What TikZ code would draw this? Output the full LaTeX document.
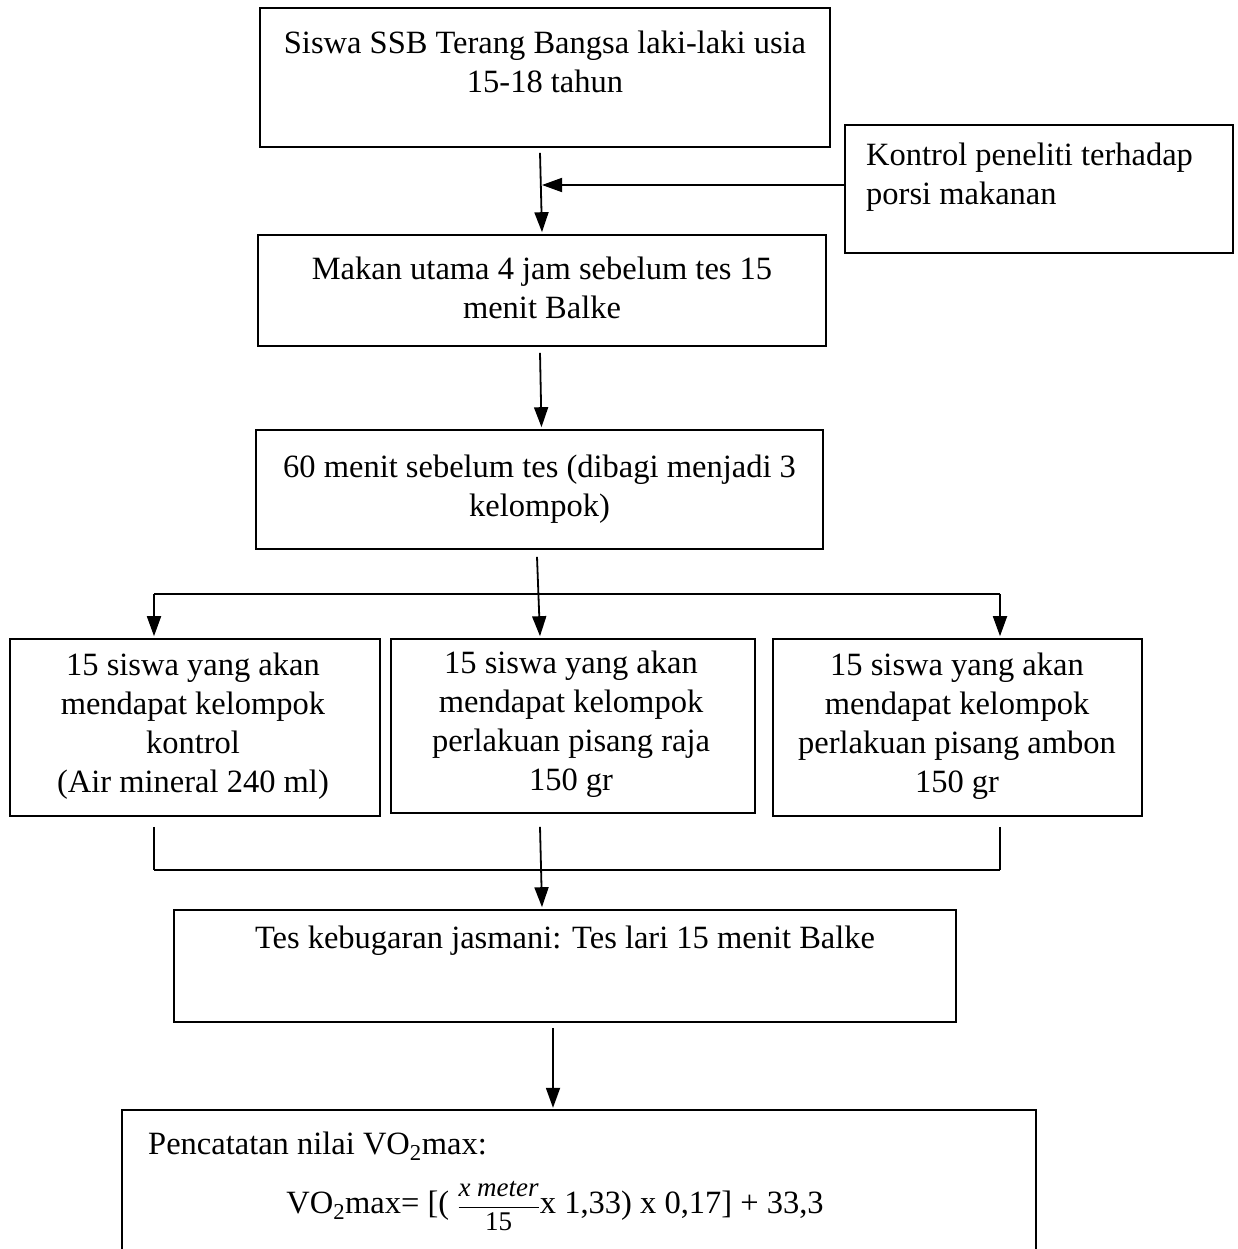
\documentclass[tikz,border=0pt]{standalone}
\usepackage{fontspec}
\setmainfont{Liberation Serif}
\usetikzlibrary{arrows.meta,calc}
\begin{document}
\begin{tikzpicture}[x=1pt,y=-1pt,
  box/.style={draw, line width=1.6pt, inner sep=0pt},
  txt/.style={inner sep=0pt, align=center, font=\fontsize{32.5}{39}\selectfont},
  arr/.style={line width=1.8pt, -{Triangle[length=20pt,width=14pt]}},
  ln/.style={line width=1.8pt},
  thin/.style={line width=1.1pt}]
\useasboundingbox (0,0) rectangle (1238,1249);
% boxes
\node[box, minimum width=570pt, minimum height=139pt] (b1) at (545,77.5) {};
\node[box, minimum width=388pt, minimum height=128pt] (sb) at (1039,189) {};
\node[box, minimum width=568pt, minimum height=111pt] (b2) at (542,290.5) {};
\node[box, minimum width=567pt, minimum height=119pt] (b3) at (539.5,489.5) {};
\node[box, minimum width=370pt, minimum height=177pt] (g1) at (195,727.5) {};
\node[box, minimum width=364pt, minimum height=174pt] (g2) at (573,726) {};
\node[box, minimum width=369pt, minimum height=177pt] (g3) at (957.5,727.5) {};
\node[box, minimum width=782pt, minimum height=112pt] (b4) at (565,966) {};
\node[inner sep=0pt, minimum width=914pt, minimum height=145pt] (b5) at (579,1182.5) {};
\draw[line width=1.6pt] (b5.south west) -- (b5.north west) -- (b5.north east) -- (b5.south east);
% texts
\node[txt] (t1) at (545,62) {Siswa SSB Terang Bangsa laki-laki usia\\15-18 tahun};
\node[txt, align=left, anchor=west] (ts) at (866,177) {Kontrol peneliti terhadap\\porsi makanan};
\node[txt] (t2) at (542,288) {Makan utama 4 jam sebelum tes 15\\menit Balke};
\node[txt] (t3) at (539.5,489) {60 menit sebelum tes (dibagi menjadi 3\\kelompok)};
\node[txt] (tg1) at (193,726) {15 siswa yang akan\\mendapat kelompok\\kontrol\\(Air mineral 240 ml)};
\node[txt] (tg2) at (571,724) {15 siswa yang akan\\mendapat kelompok\\perlakuan pisang raja\\150 gr};
\node[txt] (tg3) at (957,726) {15 siswa yang akan\\mendapat kelompok\\perlakuan pisang ambon\\150 gr};
\node[txt] (t4) at (565,941) {Tes kebugaran jasmani: Tes lari 15 menit Balke};
\node[txt, anchor=west] (t5) at (148,1146) {Pencatatan nilai VO\textsubscript{2}max:};
\node[txt] (t6) at (555,1206) {VO\textsubscript{2}max= [( $\displaystyle\frac{\mbox{\fontsize{27}{27}\selectfont\itshape x meter}}{\mbox{\fontsize{27}{27}\selectfont 15}}$x 1,33) x 0,17] + 33,3};
% connectors
\coordinate (m1) at (542,185);
\draw[arr] ([xshift=-5pt,yshift=-5pt]b1.south) -- ([yshift=2pt]b2.north);
\draw[arr] ([yshift=4pt]sb.west) -- (m1);
\draw[arr] ([xshift=-2pt,yshift=-6pt]b2.south) -- ([xshift=2pt,yshift=2pt]b3.north);
\coordinate (hl) at (154,594);
\coordinate (hr) at (1000,594);
\draw[ln] (hl) -- (hr);
\draw[arr] ([xshift=-2.5pt,yshift=-7pt]b3.south) -- ([xshift=-33pt,yshift=2pt]g2.north);
\draw[arr] (hl) -- ([yshift=2pt]hl |- g1.north);
\draw[arr] (hr) -- ([yshift=2pt]hr |- g3.north);
\coordinate (bl) at (154,870);
\coordinate (br) at (1000,870);
\draw[thin] ([yshift=-10pt]bl |- g1.south) -- (bl);
\draw[thin] ([yshift=-10pt]br |- g3.south) -- (br);
\draw[ln] (bl) -- (br);
\draw[arr] ([xshift=-33pt,yshift=-13pt]g2.south) -- ([xshift=-23pt,yshift=2pt]b4.north);
\draw[arr] ([xshift=-12pt,yshift=-5pt]b4.south) -- ([xshift=-26pt,yshift=2pt]b5.north);
\end{tikzpicture}
\end{document}
